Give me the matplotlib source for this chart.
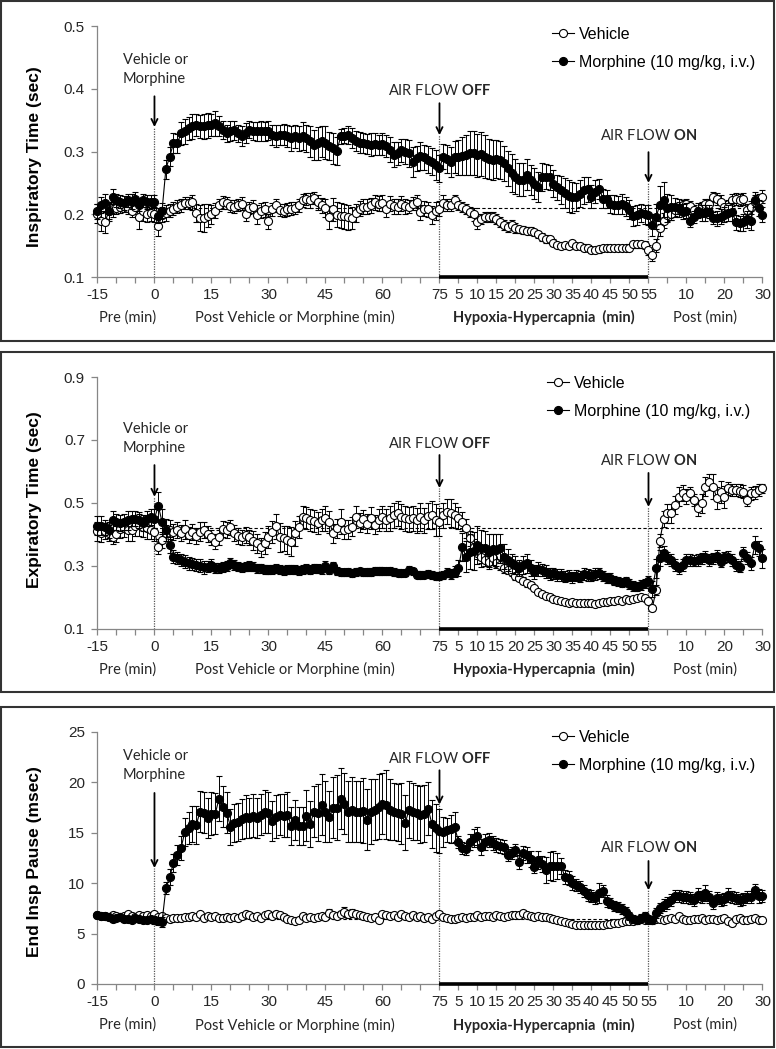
import numpy as np
import matplotlib
matplotlib.use('Agg')
import matplotlib.pyplot as plt
import matplotlib.transforms as mtransforms
from matplotlib.lines import Line2D
from matplotlib.patches import Rectangle

plt.rcParams['font.family'] = ['Liberation Sans', 'DejaVu Sans']
plt.rcParams['mathtext.fontset'] = 'custom'
plt.rcParams['mathtext.rm'] = 'Lato'
plt.rcParams['mathtext.bf'] = 'Lato:bold'

# time axis: -15..75 pre/post drug, 76..130 hypoxia (1..55), 131..160 recovery (1..30)
minutes = np.arange(-15, 161)

xtick_pos = list(range(-15, 161, 5))
xtick_labels = ['-15', '', '', '0', '', '', '15', '', '', '30', '', '', '45', '', '', '60', '', '',
                '75', '5', '10', '15', '20', '25', '30', '35', '40', '45', '50', '55',
                '', '10', '', '20', '', '30']

# ---------------- Inspiratory time (sec) ----------------
ti_veh = [
    0.201, 0.190, 0.188, 0.205, 0.208, 0.210, 0.212, 0.213, 0.210, 0.205,
    0.212, 0.195, 0.205, 0.200, 0.202, 0.200,
    0.181, 0.199, 0.202, 0.206, 0.209, 0.212, 0.214, 0.218, 0.218, 0.219,
    0.202, 0.194, 0.194, 0.198, 0.200, 0.206, 0.215, 0.219, 0.218, 0.213,
    0.212, 0.215, 0.217, 0.201, 0.210, 0.212, 0.199, 0.206, 0.208, 0.189,
    0.208, 0.214, 0.207, 0.206, 0.208, 0.209, 0.210, 0.214, 0.222, 0.224,
    0.222, 0.226, 0.219, 0.214, 0.210, 0.195, 0.208, 0.199, 0.198, 0.197,
    0.195, 0.194, 0.202, 0.209, 0.212, 0.212, 0.214, 0.219, 0.217, 0.218,
    0.208, 0.217, 0.213, 0.212, 0.217, 0.213, 0.212, 0.217, 0.219, 0.203,
    0.209, 0.208, 0.199, 0.205, 0.209,
    0.218, 0.215, 0.215, 0.223, 0.215, 0.212, 0.209, 0.204, 0.200, 0.187,
    0.193, 0.195, 0.196, 0.195, 0.193, 0.187, 0.183, 0.180, 0.183, 0.178,
    0.176, 0.175, 0.174, 0.173, 0.171, 0.168, 0.164, 0.161, 0.160, 0.155,
    0.151, 0.150, 0.151, 0.150, 0.154, 0.150, 0.150, 0.147, 0.146, 0.143,
    0.143, 0.144, 0.146, 0.146, 0.146, 0.146, 0.146, 0.146, 0.146, 0.147,
    0.152, 0.152, 0.152, 0.151, 0.143,
    0.135, 0.150, 0.178, 0.190, 0.199, 0.201, 0.207, 0.210, 0.215, 0.216,
    0.213, 0.207, 0.204, 0.212, 0.217, 0.217, 0.227, 0.224, 0.220, 0.211,
    0.212, 0.223, 0.224, 0.223, 0.224, 0.207, 0.211, 0.220, 0.223, 0.228,
]
ti_veh_err = [
    0.015, 0.016, 0.018, 0.015, 0.012, 0.010, 0.010, 0.010, 0.010, 0.010,
    0.012, 0.018, 0.015, 0.012, 0.012, 0.012,
    0.015, 0.012, 0.012, 0.010, 0.010, 0.010, 0.010, 0.010, 0.010, 0.012,
    0.015, 0.020, 0.022, 0.018, 0.015, 0.012, 0.010, 0.010, 0.010, 0.010,
    0.010, 0.010, 0.010, 0.012, 0.010, 0.010, 0.015, 0.012, 0.012, 0.012,
    0.010, 0.010, 0.010, 0.010, 0.010, 0.010, 0.010, 0.010, 0.010, 0.010,
    0.012, 0.010, 0.012, 0.012, 0.015, 0.018, 0.018, 0.020, 0.020, 0.020,
    0.020, 0.018, 0.015, 0.012, 0.012, 0.012, 0.012, 0.012, 0.012, 0.012,
    0.012, 0.012, 0.012, 0.012, 0.012, 0.012, 0.010, 0.010, 0.012, 0.012,
    0.012, 0.012, 0.014, 0.014, 0.012,
    0.012, 0.010, 0.010, 0.008, 0.008, 0.008, 0.008, 0.008, 0.010, 0.010,
    0.008, 0.008, 0.008, 0.008, 0.008, 0.008, 0.008, 0.008, 0.008, 0.008,
    0.006, 0.006, 0.006, 0.006, 0.006, 0.006, 0.006, 0.006, 0.006, 0.006,
    0.005, 0.005, 0.005, 0.005, 0.005, 0.005, 0.005, 0.005, 0.005, 0.005,
    0.005, 0.005, 0.005, 0.005, 0.005, 0.005, 0.005, 0.005, 0.005, 0.005,
    0.005, 0.005, 0.005, 0.006, 0.008,
    0.010, 0.010, 0.012, 0.012, 0.010, 0.010, 0.010, 0.010, 0.008, 0.008,
    0.008, 0.008, 0.008, 0.008, 0.008, 0.008, 0.008, 0.010, 0.010, 0.010,
    0.010, 0.010, 0.010, 0.010, 0.010, 0.010, 0.010, 0.010, 0.010, 0.010,
]
ti_mor = [
    0.205, 0.215, 0.218, 0.205, 0.228, 0.222, 0.220, 0.218, 0.222, 0.220,
    0.225, 0.215, 0.222, 0.220, 0.220, 0.220,
    0.198, 0.206, 0.272, 0.292, 0.313, 0.313, 0.329, 0.332, 0.337, 0.340,
    0.342, 0.340, 0.340, 0.342, 0.342, 0.345, 0.340, 0.334, 0.329, 0.332,
    0.334, 0.329, 0.325, 0.329, 0.335, 0.333, 0.332, 0.333, 0.332, 0.333,
    0.326, 0.325, 0.326, 0.327, 0.325, 0.321, 0.324, 0.321, 0.325, 0.321,
    0.316, 0.311, 0.313, 0.316, 0.314, 0.309, 0.305, 0.301, 0.324, 0.325,
    0.326, 0.321, 0.317, 0.314, 0.313, 0.312, 0.311, 0.312, 0.311, 0.312,
    0.309, 0.303, 0.295, 0.297, 0.302, 0.300, 0.297, 0.284, 0.289, 0.293,
    0.291, 0.287, 0.284, 0.279, 0.273,
    0.292, 0.288, 0.284, 0.291, 0.291, 0.293, 0.294, 0.297, 0.297, 0.294,
    0.296, 0.292, 0.288, 0.286, 0.288, 0.286, 0.281, 0.273, 0.266, 0.260,
    0.255, 0.255, 0.263, 0.255, 0.249, 0.243, 0.259, 0.260, 0.259, 0.249,
    0.243, 0.239, 0.234, 0.229, 0.227, 0.228, 0.233, 0.238, 0.240, 0.228,
    0.236, 0.241, 0.225, 0.224, 0.216, 0.215, 0.215, 0.216, 0.213, 0.207,
    0.197, 0.199, 0.202, 0.200, 0.199,
    0.183, 0.196, 0.215, 0.223, 0.210, 0.211, 0.211, 0.210, 0.204, 0.206,
    0.190, 0.196, 0.206, 0.202, 0.202, 0.204, 0.194, 0.194, 0.196, 0.199,
    0.202, 0.204, 0.187, 0.186, 0.187, 0.192, 0.190, 0.223, 0.210, 0.199,
]
ti_mor_err = [
    0.012, 0.013, 0.015, 0.013, 0.012, 0.010, 0.010, 0.011, 0.010, 0.012,
    0.011, 0.010, 0.010, 0.011, 0.010, 0.010,
    0.012, 0.012, 0.015, 0.015, 0.016, 0.015, 0.018, 0.020, 0.018, 0.020,
    0.018, 0.018, 0.020, 0.020, 0.018, 0.020, 0.016, 0.014, 0.014, 0.016,
    0.015, 0.014, 0.016, 0.016, 0.014, 0.014, 0.015, 0.016, 0.015, 0.015,
    0.016, 0.018, 0.016, 0.017, 0.018, 0.020, 0.018, 0.020, 0.022, 0.022,
    0.024, 0.024, 0.026, 0.025, 0.026, 0.022, 0.025, 0.022, 0.012, 0.012,
    0.014, 0.016, 0.016, 0.017, 0.016, 0.016, 0.018, 0.018, 0.016, 0.018,
    0.018, 0.020, 0.020, 0.018, 0.018, 0.020, 0.022, 0.024, 0.020, 0.022,
    0.020, 0.022, 0.022, 0.024, 0.022,
    0.020, 0.022, 0.024, 0.025, 0.028, 0.030, 0.032, 0.035, 0.035, 0.034,
    0.035, 0.034, 0.032, 0.032, 0.030, 0.030, 0.028, 0.028, 0.030, 0.028,
    0.026, 0.026, 0.025, 0.024, 0.024, 0.024, 0.022, 0.020, 0.020, 0.022,
    0.020, 0.022, 0.024, 0.025, 0.025, 0.022, 0.022, 0.022, 0.020, 0.018,
    0.018, 0.016, 0.015, 0.014, 0.014, 0.015, 0.014, 0.016, 0.015, 0.015,
    0.016, 0.016, 0.015, 0.015, 0.016,
    0.018, 0.020, 0.030, 0.028, 0.022, 0.020, 0.015, 0.014, 0.012, 0.012,
    0.010, 0.010, 0.012, 0.012, 0.012, 0.010, 0.010, 0.012, 0.012, 0.012,
    0.012, 0.014, 0.012, 0.012, 0.014, 0.014, 0.015, 0.012, 0.012, 0.012,
]
ti_base = 0.21

# ---------------- Expiratory time (sec) ----------------
te_veh = [
    0.410, 0.405, 0.410, 0.405, 0.390, 0.400, 0.418, 0.420, 0.415, 0.413,
    0.425, 0.430, 0.422, 0.420, 0.415, 0.408,
    0.361, 0.382, 0.403, 0.414, 0.408, 0.414, 0.403, 0.416, 0.398, 0.408,
    0.395, 0.408, 0.414, 0.401, 0.390, 0.377, 0.390, 0.416, 0.414, 0.422,
    0.405, 0.395, 0.390, 0.398, 0.390, 0.380, 0.371, 0.359, 0.371, 0.390,
    0.408, 0.426, 0.390, 0.387, 0.382, 0.377, 0.403, 0.422, 0.456, 0.451,
    0.445, 0.443, 0.435, 0.445, 0.451, 0.440, 0.403, 0.419, 0.440, 0.414,
    0.416, 0.424, 0.456, 0.437, 0.448, 0.433, 0.451, 0.430, 0.445, 0.456,
    0.445, 0.451, 0.461, 0.467, 0.456, 0.451, 0.448, 0.451, 0.445, 0.454,
    0.445, 0.458, 0.461, 0.445, 0.440,
    0.461, 0.472, 0.467, 0.461, 0.451, 0.440, 0.419, 0.387, 0.361, 0.340,
    0.329, 0.318, 0.313, 0.324, 0.308, 0.302, 0.292, 0.287, 0.281, 0.268,
    0.260, 0.253, 0.244, 0.239, 0.228, 0.218, 0.210, 0.204, 0.200, 0.193,
    0.191, 0.189, 0.186, 0.183, 0.186, 0.183, 0.181, 0.181, 0.183, 0.181,
    0.179, 0.183, 0.186, 0.186, 0.189, 0.189, 0.191, 0.189, 0.193, 0.191,
    0.193, 0.197, 0.200, 0.197, 0.189,
    0.165, 0.223, 0.380, 0.448, 0.467, 0.467, 0.493, 0.520, 0.532, 0.520,
    0.530, 0.509, 0.483, 0.498, 0.551, 0.567, 0.551, 0.514, 0.536, 0.520,
    0.546, 0.541, 0.541, 0.539, 0.536, 0.509, 0.530, 0.532, 0.541, 0.546,
]
te_veh_err = [
    0.030, 0.030, 0.025, 0.025, 0.020, 0.025, 0.030, 0.030, 0.035, 0.035,
    0.030, 0.035, 0.030, 0.035, 0.030, 0.030,
    0.025, 0.025, 0.025, 0.030, 0.025, 0.025, 0.025, 0.030, 0.025, 0.025,
    0.025, 0.030, 0.025, 0.025, 0.025, 0.025, 0.025, 0.025, 0.025, 0.025,
    0.025, 0.025, 0.025, 0.025, 0.025, 0.030, 0.030, 0.030, 0.035, 0.035,
    0.035, 0.040, 0.045, 0.040, 0.045, 0.045, 0.040, 0.035, 0.035, 0.035,
    0.035, 0.035, 0.035, 0.035, 0.040, 0.035, 0.030, 0.030, 0.040, 0.030,
    0.030, 0.030, 0.035, 0.030, 0.030, 0.030, 0.035, 0.030, 0.035, 0.035,
    0.035, 0.040, 0.040, 0.040, 0.040, 0.040, 0.040, 0.040, 0.040, 0.045,
    0.040, 0.040, 0.045, 0.050, 0.045,
    0.040, 0.040, 0.045, 0.040, 0.035, 0.030, 0.030, 0.025, 0.025, 0.020,
    0.020, 0.018, 0.018, 0.018, 0.015, 0.015, 0.015, 0.012, 0.012, 0.012,
    0.010, 0.010, 0.010, 0.010, 0.008, 0.008, 0.008, 0.008, 0.006, 0.006,
    0.006, 0.006, 0.006, 0.006, 0.006, 0.006, 0.006, 0.006, 0.006, 0.006,
    0.006, 0.006, 0.006, 0.006, 0.006, 0.006, 0.006, 0.006, 0.006, 0.006,
    0.006, 0.006, 0.006, 0.006, 0.008,
    0.010, 0.015, 0.020, 0.025, 0.030, 0.030, 0.030, 0.030, 0.025, 0.025,
    0.020, 0.020, 0.025, 0.030, 0.030, 0.025, 0.040, 0.035, 0.035, 0.035,
    0.020, 0.020, 0.020, 0.020, 0.020, 0.020, 0.020, 0.020, 0.020, 0.015,
]
te_mor = [
    0.427, 0.427, 0.422, 0.414, 0.445, 0.440, 0.437, 0.440, 0.445, 0.450,
    0.450, 0.445, 0.437, 0.450, 0.455, 0.450,
    0.490, 0.440, 0.414, 0.366, 0.329, 0.324, 0.318, 0.313, 0.308, 0.306,
    0.302, 0.300, 0.295, 0.297, 0.302, 0.292, 0.292, 0.295, 0.298, 0.310,
    0.302, 0.297, 0.295, 0.297, 0.299, 0.297, 0.292, 0.292, 0.289, 0.287,
    0.289, 0.290, 0.287, 0.285, 0.287, 0.289, 0.287, 0.285, 0.289, 0.291,
    0.288, 0.292, 0.290, 0.289, 0.299, 0.287, 0.298, 0.283, 0.279, 0.279,
    0.280, 0.277, 0.280, 0.282, 0.279, 0.280, 0.281, 0.283, 0.284, 0.284,
    0.282, 0.283, 0.280, 0.278, 0.276, 0.278, 0.286, 0.282, 0.272, 0.270,
    0.272, 0.274, 0.270, 0.268, 0.268,
    0.271, 0.278, 0.274, 0.281, 0.292, 0.359, 0.329, 0.345, 0.348, 0.366,
    0.355, 0.355, 0.345, 0.352, 0.350, 0.355, 0.329, 0.318, 0.308, 0.302,
    0.292, 0.302, 0.308, 0.292, 0.281, 0.289, 0.287, 0.281, 0.274, 0.276,
    0.271, 0.271, 0.265, 0.268, 0.263, 0.268, 0.265, 0.274, 0.271, 0.268,
    0.274, 0.276, 0.268, 0.260, 0.260, 0.253, 0.250, 0.246, 0.250, 0.242,
    0.236, 0.234, 0.239, 0.244, 0.253,
    0.225, 0.292, 0.324, 0.342, 0.324, 0.318, 0.302, 0.292, 0.302, 0.318,
    0.318, 0.316, 0.318, 0.324, 0.329, 0.318, 0.324, 0.331, 0.313, 0.327,
    0.329, 0.318, 0.302, 0.297, 0.340, 0.324, 0.308, 0.366, 0.355, 0.324,
]
te_mor_err = [
    0.030, 0.030, 0.025, 0.025, 0.030, 0.025, 0.025, 0.025, 0.030, 0.025,
    0.025, 0.025, 0.025, 0.025, 0.025, 0.030,
    0.045, 0.040, 0.035, 0.025, 0.020, 0.020, 0.020, 0.020, 0.020, 0.020,
    0.020, 0.020, 0.020, 0.018, 0.020, 0.016, 0.016, 0.016, 0.016, 0.016,
    0.015, 0.015, 0.015, 0.015, 0.015, 0.014, 0.014, 0.014, 0.014, 0.014,
    0.014, 0.014, 0.014, 0.014, 0.014, 0.014, 0.014, 0.014, 0.014, 0.014,
    0.014, 0.014, 0.014, 0.014, 0.015, 0.014, 0.015, 0.012, 0.012, 0.012,
    0.012, 0.012, 0.012, 0.012, 0.012, 0.012, 0.012, 0.012, 0.012, 0.012,
    0.012, 0.012, 0.012, 0.012, 0.012, 0.012, 0.012, 0.012, 0.012, 0.012,
    0.012, 0.012, 0.012, 0.012, 0.012,
    0.012, 0.014, 0.015, 0.018, 0.025, 0.045, 0.050, 0.055, 0.060, 0.060,
    0.058, 0.055, 0.055, 0.050, 0.050, 0.045, 0.040, 0.035, 0.030, 0.028,
    0.025, 0.028, 0.030, 0.025, 0.022, 0.022, 0.020, 0.020, 0.018, 0.018,
    0.018, 0.018, 0.018, 0.018, 0.018, 0.018, 0.018, 0.018, 0.018, 0.018,
    0.018, 0.018, 0.016, 0.016, 0.016, 0.015, 0.015, 0.015, 0.015, 0.015,
    0.015, 0.015, 0.015, 0.015, 0.015,
    0.025, 0.030, 0.025, 0.020, 0.020, 0.018, 0.018, 0.018, 0.018, 0.018,
    0.018, 0.018, 0.018, 0.018, 0.018, 0.018, 0.018, 0.018, 0.018, 0.018,
    0.018, 0.018, 0.018, 0.018, 0.020, 0.020, 0.020, 0.030, 0.025, 0.030,
]
te_base = 0.42

# ---------------- End inspiratory pause (msec) ----------------
eip_veh = [
    6.8, 6.75, 6.7, 6.6, 6.8, 6.7, 6.6, 6.7, 6.9, 6.7,
    6.6, 6.8, 6.7, 6.8, 6.7, 6.9,
    6.6, 6.7, 6.5, 6.4, 6.5, 6.5, 6.5, 6.6, 6.6, 6.7,
    6.6, 6.9, 6.5, 6.7, 6.6, 6.7, 6.5, 6.5, 6.6, 6.5,
    6.6, 6.5, 6.7, 6.9, 6.8, 6.6, 6.7, 6.5, 6.8, 6.9,
    6.7, 6.9, 6.8, 6.6, 6.4, 6.3, 6.2, 6.3, 6.7, 6.5,
    6.6, 6.5, 6.6, 6.7, 6.6, 7.0, 6.8, 6.7, 6.9, 7.1,
    6.9, 7.0, 6.9, 6.8, 6.7, 6.6, 6.5, 6.6, 6.3, 6.9,
    6.8, 6.7, 6.8, 6.6, 6.9, 6.7, 6.6, 6.8, 6.6, 6.7,
    6.5, 6.6, 6.4, 6.7, 6.9,
    6.6, 6.5, 6.4, 6.4, 6.5, 6.6, 6.5, 6.6, 6.6, 6.8,
    6.6, 6.7, 6.7, 6.6, 6.8, 6.7, 6.6, 6.7, 6.8, 6.8,
    6.8, 7.0, 6.8, 6.7, 6.6, 6.7, 6.6, 6.6, 6.5, 6.4,
    6.3, 6.2, 6.1, 6.0, 5.9, 5.85, 5.85, 5.85, 5.85, 5.85,
    5.85, 5.85, 5.85, 5.9, 5.95, 6.0, 6.0, 6.1, 6.2, 6.2,
    6.2, 6.3, 6.4, 6.3, 6.3,
    6.3, 6.4, 6.4, 6.3, 6.4, 6.5, 6.4, 6.7, 6.4, 6.3,
    6.3, 6.4, 6.4, 6.5, 6.3, 6.4, 6.4, 6.3, 6.4, 6.5,
    6.2, 6.0, 6.4, 6.5, 6.3, 6.3, 6.4, 6.5, 6.3, 6.35,
]
eip_veh_err = [
    0.2, 0.2, 0.15, 0.2, 0.2, 0.15, 0.2, 0.2, 0.2, 0.15,
    0.2, 0.2, 0.15, 0.2, 0.2, 0.2,
    0.2, 0.2, 0.2, 0.2, 0.2, 0.2, 0.2, 0.2, 0.25, 0.2,
    0.2, 0.25, 0.2, 0.2, 0.2, 0.2, 0.2, 0.2, 0.2, 0.2,
    0.2, 0.2, 0.25, 0.25, 0.25, 0.2, 0.25, 0.2, 0.25, 0.3,
    0.25, 0.3, 0.25, 0.2, 0.2, 0.2, 0.2, 0.2, 0.25, 0.2,
    0.2, 0.2, 0.25, 0.25, 0.3, 0.4, 0.3, 0.3, 0.3, 0.5,
    0.4, 0.4, 0.3, 0.3, 0.3, 0.3, 0.25, 0.25, 0.2, 0.3,
    0.3, 0.25, 0.3, 0.25, 0.3, 0.25, 0.25, 0.3, 0.25, 0.25,
    0.25, 0.25, 0.2, 0.25, 0.3,
    0.25, 0.2, 0.2, 0.2, 0.2, 0.2, 0.2, 0.2, 0.2, 0.25,
    0.2, 0.25, 0.25, 0.2, 0.25, 0.2, 0.2, 0.2, 0.25, 0.25,
    0.25, 0.3, 0.25, 0.25, 0.2, 0.25, 0.2, 0.2, 0.2, 0.2,
    0.2, 0.2, 0.15, 0.15, 0.15, 0.15, 0.15, 0.15, 0.15, 0.15,
    0.15, 0.15, 0.15, 0.15, 0.15, 0.15, 0.15, 0.15, 0.15, 0.15,
    0.15, 0.15, 0.2, 0.2, 0.2,
    0.2, 0.2, 0.2, 0.2, 0.2, 0.2, 0.2, 0.25, 0.2, 0.2,
    0.2, 0.2, 0.2, 0.2, 0.2, 0.2, 0.2, 0.2, 0.2, 0.2,
    0.2, 0.2, 0.2, 0.2, 0.2, 0.2, 0.2, 0.2, 0.2, 0.2,
]
eip_mor = [
    6.8, 6.7, 6.75, 6.6, 6.4, 6.5, 6.6, 6.4, 6.45, 6.35,
    6.5, 6.4, 6.35, 6.35, 6.4, 6.3,
    6.28, 6.18, 9.49, 10.65, 11.97, 12.8, 13.5, 15.1, 15.5, 15.9,
    15.8, 17.1, 17.0, 16.5, 16.9, 16.9, 18.4, 17.6, 17.0, 15.6,
    16.0, 16.1, 16.4, 16.6, 16.5, 16.7, 16.5, 16.8, 17.1, 17.0,
    16.2, 16.6, 16.8, 16.7, 16.8, 15.7, 16.3, 15.7, 15.7, 16.7,
    15.9, 17.1, 17.0, 17.8, 17.1, 16.6, 17.5, 17.5, 18.4, 17.9,
    17.1, 17.3, 17.1, 17.1, 17.2, 16.3, 17.1, 17.3, 17.6, 17.9,
    17.8, 17.3, 17.1, 17.0, 16.9, 16.0, 17.3, 17.1, 17.0, 16.8,
    16.9, 17.4, 15.9, 15.5, 15.2,
    15.1, 15.3, 15.4, 15.6, 14.1, 13.5, 13.4, 14.1, 14.5, 14.7,
    13.6, 14.1, 14.3, 14.0, 13.8, 13.7, 13.6, 12.8, 13.0, 13.3,
    12.1, 13.0, 12.8, 12.4, 11.6, 12.3, 11.9, 11.3, 11.7, 11.7,
    11.7, 11.7, 10.65, 10.5, 10.05, 9.8, 9.6, 9.2, 8.8, 8.7,
    8.5, 9.0, 9.2, 8.2, 8.0, 7.7, 7.6, 7.4, 7.1, 6.7,
    6.4, 6.3, 6.5, 6.7, 6.4,
    6.35, 7.0, 7.5, 7.8, 8.0, 8.3, 8.7, 8.7, 8.6, 8.6,
    8.5, 8.3, 8.8, 8.6, 9.0, 8.6, 8.0, 8.5, 8.3, 8.4,
    8.8, 8.6, 8.5, 8.3, 8.4, 8.6, 8.6, 9.3, 8.7, 8.7,
]
eip_mor_err = [
    0.3, 0.25, 0.3, 0.25, 0.3, 0.3, 0.25, 0.3, 0.3, 0.25,
    0.3, 0.3, 0.25, 0.3, 0.3, 0.4,
    0.4, 0.5, 0.6, 0.8, 0.9, 1.0, 1.2, 1.4, 1.6, 1.8,
    1.9, 2.0, 2.0, 2.0, 2.1, 2.0, 2.2, 2.0, 2.0, 1.8,
    1.9, 1.9, 2.0, 2.1, 2.0, 2.1, 2.0, 2.0, 2.1, 2.0,
    2.0, 2.1, 2.0, 2.1, 2.2, 1.9, 2.0, 1.9, 1.9, 2.5,
    2.3, 2.5, 2.8, 3.0, 3.0, 2.5, 3.0, 3.2, 3.0, 3.0,
    3.0, 3.2, 3.0, 3.0, 3.2, 3.0, 3.2, 3.0, 3.2, 3.0,
    3.4, 3.0, 2.8, 2.8, 3.0, 2.7, 2.8, 2.8, 2.7, 2.8,
    2.8, 2.6, 2.4, 2.4, 2.2,
    1.5, 1.2, 1.4, 1.5, 0.6, 0.6, 0.6, 0.8, 0.9, 0.9,
    0.8, 0.8, 0.7, 0.7, 0.7, 0.7, 0.7, 0.6, 0.6, 0.6,
    0.7, 0.7, 0.8, 0.8, 0.6, 0.9, 0.8, 1.3, 1.4, 1.5,
    1.3, 0.8, 0.7, 0.7, 0.7, 0.6, 0.6, 0.6, 0.6, 0.6,
    0.6, 1.0, 0.6, 0.6, 0.5, 0.5, 0.5, 0.5, 0.5, 0.4,
    0.4, 0.4, 0.4, 0.4, 0.4,
    0.4, 0.5, 0.5, 0.6, 0.6, 0.6, 0.6, 0.6, 0.6, 0.6,
    0.6, 0.6, 0.7, 0.6, 0.8, 0.6, 0.6, 0.6, 0.6, 0.6,
    0.7, 0.6, 0.6, 0.6, 0.6, 0.6, 0.6, 0.6, 0.7, 0.6,
]
eip_base = 6.4

W, H = 776, 1049
fig = plt.figure(figsize=(W / 100, H / 100), dpi=100)

axis_grey = '#868686'
txt_col = '#262626'

panels = [
    dict(rect=[0.1256, 0.7359, 0.857, 0.2393], box=(1, 341), veh=ti_veh, veh_err=ti_veh_err,
         mor=ti_mor, mor_err=ti_mor_err, base=ti_base, ylim=(0.1, 0.5),
         yticks=[0.1, 0.2, 0.3, 0.4, 0.5], yfmt='{:.1f}', ylabel='Inspiratory Time (sec)', ylab_y=0.478,
         drug=(0.388, 0.339, 0.43), off=(0.377, 0.326, 0.398), on=(0.299, 0.25, 0.326), leg=(552, 27)),
    dict(rect=[0.1256, 0.4007, 0.857, 0.2399], box=(352, 692), veh=te_veh, veh_err=te_veh_err,
         mor=te_mor, mor_err=te_mor_err, base=te_base, ylim=(0.1, 0.9),
         yticks=[0.1, 0.3, 0.5, 0.7, 0.9], yfmt='{:.1f}', ylabel='Expiratory Time (sec)', ylab_y=0.511,
         drug=(0.62, 0.519, 0.704), off=(0.652, 0.547, 0.69), on=(0.595, 0.487, 0.636), leg=(547, 376)),
    dict(rect=[0.1256, 0.0620, 0.857, 0.2402], box=(707, 1047), veh=eip_veh, veh_err=eip_veh_err,
         mor=eip_mor, mor_err=eip_mor_err, base=eip_base, ylim=(0, 25),
         yticks=[0, 5, 10, 15, 20, 25], yfmt='{:.0f}', ylabel='End Insp Pause (msec)', ylab_y=0.484,
         drug=(18.95, 11.5, 21.7), off=(21.2, 17.8, 22.4), on=(12.2, 9.3, 13.5), leg=(552, 730)),
]

for p in panels:
    # panel frame
    y0, y1 = p['box']
    fig.add_artist(Rectangle((1 / W, 1 - y1 / H), 773 / W, (y1 - y0) / H, transform=fig.transFigure,
                             fill=False, ec='#333333', lw=1.5))

    ax = fig.add_axes(p['rect'])
    ymin, ymax = p['ylim']

    # baseline reference
    ax.hlines(p['base'], 0, 160, colors='black', linestyles=(0, (3, 2)), lw=0.8, zorder=1)

    ax.errorbar(minutes, p['veh'], yerr=p['veh_err'], fmt='-o', color='black', lw=0.8, ms=5.8,
                mfc='white', mec='black', mew=0.8, ecolor='black', elinewidth=0.7,
                capsize=2.2, capthick=0.7, zorder=3, clip_on=False)
    ax.errorbar(minutes, p['mor'], yerr=p['mor_err'], fmt='-o', color='black', lw=0.8, ms=5.8,
                mfc='black', mec='black', mew=0.8, ecolor='black', elinewidth=0.7,
                capsize=2.2, capthick=0.7, zorder=4, clip_on=False)

    ax.set_xlim(-15, 160)
    ax.set_ylim(ymin, ymax)
    ax.set_xticks(xtick_pos)
    ax.set_xticklabels(xtick_labels)
    ax.set_yticks(p['yticks'])
    ax.set_yticklabels([p['yfmt'].format(v) for v in p['yticks']])

    for s in ['top', 'right']:
        ax.spines[s].set_visible(False)
    for s in ['left', 'bottom']:
        ax.spines[s].set_color(axis_grey)
        ax.spines[s].set_linewidth(0.9)
    ax.tick_params(axis='both', direction='out', length=4, width=0.9, color=axis_grey,
                   labelsize=11, labelcolor=txt_col)
    ax.tick_params(axis='x', pad=4)
    ax.tick_params(axis='y', pad=5)

    ax.set_ylabel(p['ylabel'], fontsize=12.5, fontweight='bold', color='black')
    ax.yaxis.set_label_coords(-0.0835, p['ylab_y'])

    # hypoxia bar on the axis
    ax.plot([75, 130], [ymin, ymin], color='black', lw=2.6, solid_capstyle='butt',
            clip_on=False, zorder=6)

    # vertical event lines and arrows
    events = [(0, p['drug']), (75, p['off']), (130, p['on'])]
    for xe, (tail, tip, ty) in events:
        ax.vlines(xe, ymin, tip, colors='#555555', linestyles=(0, (1, 1)), lw=0.9, zorder=2)
        ax.annotate('', xy=(xe, tip), xytext=(xe, tail),
                    arrowprops=dict(arrowstyle='->', color='black', lw=1.3,
                                    shrinkA=0, shrinkB=0, mutation_scale=11))
    ax.text(-8.3, p['drug'][2], 'Vehicle or\nMorphine', ha='left', va='center',
            fontfamily='Lato', fontsize=10.5, color=txt_col, linespacing=1.45)
    ax.text(75, p['off'][2], r'AIR FLOW $\mathbf{OFF}$', ha='center', va='center',
            fontfamily='Lato', fontsize=10.5, color=txt_col)
    ax.text(130, p['on'][2], r'AIR FLOW $\mathbf{ON}$', ha='center', va='center',
            fontfamily='Lato', fontsize=10.5, color=txt_col)

    # section labels under the axis
    trans = mtransforms.blended_transform_factory(ax.transData, ax.transAxes)
    for xc, lab, wt in [(-7.2, 'Pre (min)', 'normal'),
                        (37, 'Post Vehicle or Morphine (min)', 'normal'),
                        (102.5, 'Hypoxia-Hypercapnia  (min)', 'bold'),
                        (145, 'Post (min)', 'normal')]:
        ax.text(xc, -0.163, lab, transform=trans, ha='center', va='center',
                fontfamily='Lato', fontsize=10.5, fontweight=wt, color=txt_col)

    # legend
    handles = [Line2D([], [], color='black', lw=0.8, marker='o', ms=5.8, mfc='white', mec='black', mew=0.8),
               Line2D([], [], color='black', lw=0.8, marker='o', ms=5.8, mfc='black', mec='black', mew=0.8)]
    lx, ly = p['leg']
    ax.legend(handles, ['Vehicle', 'Morphine (10 mg/kg, i.v.)'], loc='upper left',
              bbox_to_anchor=(lx / W, 1 - ly / H), bbox_transform=fig.transFigure,
              frameon=False, fontsize=11.5, borderpad=0, borderaxespad=0,
              handlelength=1.4, handletextpad=0.3, labelspacing=0.8)

fig.savefig('out.png', dpi=100)
